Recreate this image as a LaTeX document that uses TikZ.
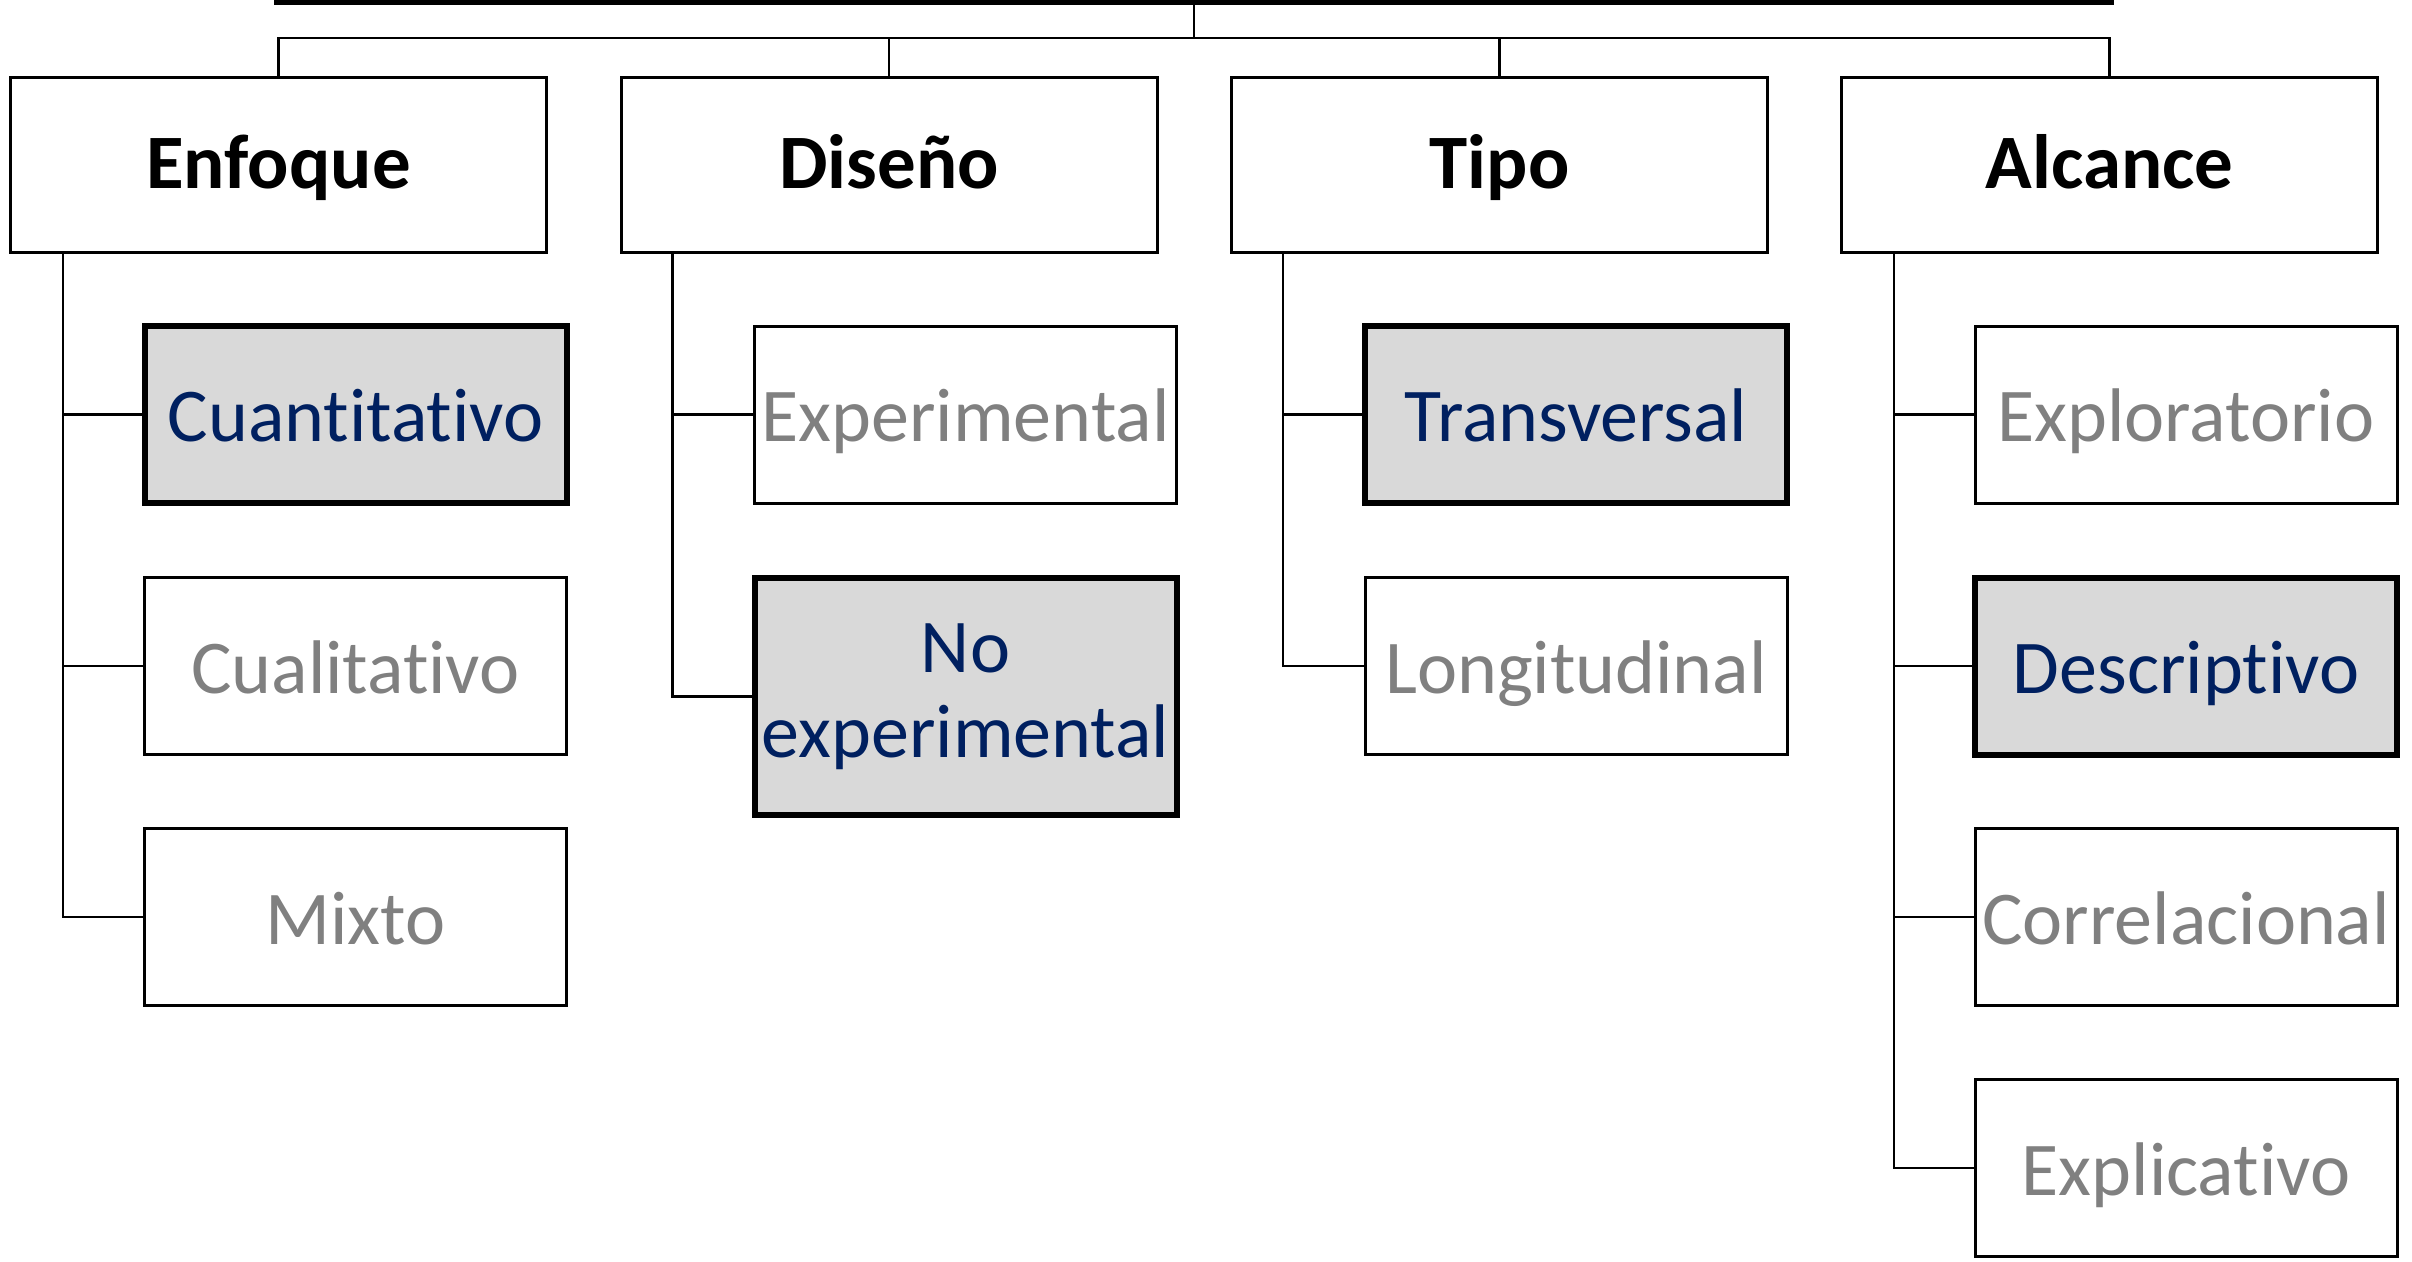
\documentclass[tikz,border=0pt]{standalone}
\usepackage{fontspec}
\setmainfont{Carlito}[Ligatures={NoCommon}]
\definecolor{navy}{HTML}{002060}
\definecolor{muted}{HTML}{808080}
\definecolor{pick}{HTML}{D9D9D9}
\begin{document}
\begin{tikzpicture}[x=1pt,y=-1pt,
  head/.style={draw=black,line width=3pt,minimum width=536pt,minimum height=175pt,inner sep=0pt,
    text height=60pt,text depth=12pt,
    font=\fontsize{77}{86}\selectfont\bfseries},
  option/.style={draw=black,line width=3pt,minimum width=422pt,minimum height=177pt,inner sep=0pt,
    text height=66pt,text depth=12pt,
    text=muted,font=\fontsize{76}{83}\selectfont,align=center},
  chosen/.style={option,line width=6pt,fill=pick,text=navy},
  link/.style={line width=2.4pt}]
\useasboundingbox (0,0) rectangle (2412,1261);

% top bar and hub
\coordinate (barL) at (274,1);
\coordinate (barR) at (2114,1);
\coordinate (barMid) at (1194,1);
\coordinate (hub) at (1194,38);
\draw[line width=8pt] (barL) -- (barR);

% headers
\node[head] (enf) at (278.5,164.5) {Enfoque};
\node[head] (dis) at (889,164.5) {Diseño};
\node[head] (tip) at (1499.5,164.5) {Tipo};
\node[head] (alc) at (2109.5,164.5) {Alcance};

% Enfoque options
\node[chosen] (cuanti) at (355.5,414.5) {Cuantitativo};
\node[option] (cuali) at (355.5,666) {Cualitativo};
\node[option] (mixto) at (355.5,917) {Mixto};

% Diseño options (two-line label keeps its natural height)
\node[option] (exper) at (965.5,414.5) {Experimental};
\node[chosen,minimum height=237pt,text height=,text depth=] (noexp) at (965.5,696.5)
  {No\\[2pt]experimental};

% Tipo options
\node[chosen] (trans) at (1576,414.5) {Transversal};
\node[option] (longi) at (1576,666) {Longitudinal};

% Alcance options
\node[option] (explo) at (2186,414.5) {Exploratorio};
\node[chosen] (descr) at (2186,666) {Descriptivo};
\node[option] (corre) at (2186,917) {Correlacional};
\node[option] (expli) at (2186,1168) {Explicativo};

% tree connectors
\draw[link] (barMid) -- (hub);
\draw[link] (enf.north) |- (hub) -| (alc.north);
\draw[link] (dis.north) -- (dis.north |- hub);
\draw[link] (tip.north) -- (tip.north |- hub);

\draw[link] ([xshift=54pt]enf.south west) |- (mixto.west);
\draw[link] ([xshift=54pt]enf.south west |- cuanti.west) -- (cuanti.west);
\draw[link] ([xshift=54pt]enf.south west |- cuali.west) -- (cuali.west);

\draw[link] ([xshift=53pt]dis.south west) |- (noexp.west);
\draw[link] ([xshift=53pt]dis.south west |- exper.west) -- (exper.west);

\draw[link] ([xshift=53pt]tip.south west) |- (longi.west);
\draw[link] ([xshift=53pt]tip.south west |- trans.west) -- (trans.west);

\draw[link] ([xshift=54pt]alc.south west) |- (expli.west);
\draw[link] ([xshift=54pt]alc.south west |- explo.west) -- (explo.west);
\draw[link] ([xshift=54pt]alc.south west |- descr.west) -- (descr.west);
\draw[link] ([xshift=54pt]alc.south west |- corre.west) -- (corre.west);
\end{tikzpicture}
\end{document}
